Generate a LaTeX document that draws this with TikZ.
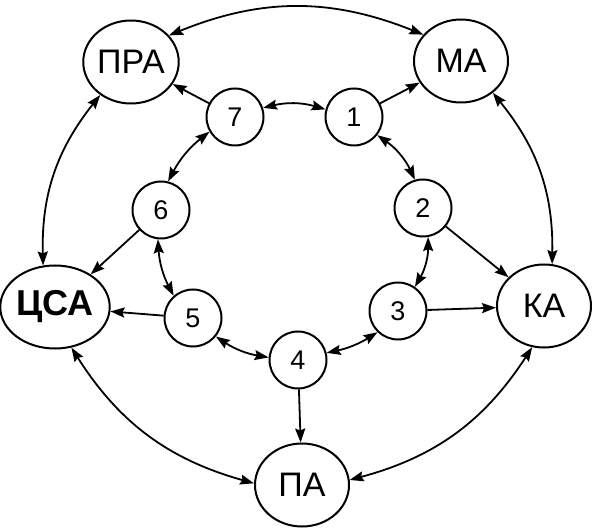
\documentclass[tikz,border=0pt]{standalone}
\usepackage{fontspec}
\setmainfont{Liberation Sans}
\usetikzlibrary{shapes.geometric,arrows.meta}
\begin{document}
\begin{tikzpicture}[x=1pt,y=-1pt,
  big/.style={draw,ellipse,line width=2pt,minimum width=94pt,minimum height=83pt,inner sep=0pt,font=\fontsize{34}{36}\selectfont},
  small/.style={draw,circle,line width=2pt,minimum size=57pt,inner sep=0pt,font=\fontsize{27}{29}\selectfont},
  con/.style={line width=1.8pt,-{Stealth[length=14pt,width=10pt,inset=2pt]}},
  dbl/.style={line width=1.8pt,{Stealth[length=14pt,width=10pt,inset=2pt]}-{Stealth[length=14pt,width=10pt,inset=2pt]}}]
\useasboundingbox (0,0) rectangle (592,529);
\node[big] (pra) at (131,62) {ПРА};
\node[big] (ma) at (461,61) {МА};
\node[big,font=\fontsize{36}{38}\selectfont\bfseries] (csa) at (55,307) {ЦСА};
\node[big] (ka) at (544,306) {КА};
\node[big] (pa) at (302,485) {ПА};
\node[small] (n1) at (354,117) {1};
\node[small] (n2) at (423,208) {2};
\node[small] (n3) at (398,311) {3};
\node[small] (n4) at (298,360) {4};
\node[small] (n5) at (193,318) {5};
\node[small] (n6) at (161,210) {6};
\node[small] (n7) at (235,117) {7};
% outer ring
\draw[dbl] (pra.35) to[bend left=22] (ma.145);
\draw[dbl] (ma.-45) to[bend left=20] (ka.79);
\draw[dbl] (ka.-106) to[bend left=21] (pa.6);
\draw[dbl] (pa.178) to[bend left=21] (csa.-68);
\draw[dbl] (csa.106) to[bend left=20] (pra.227);
% inner ring
\draw[dbl] (n7.18) to[bend left=15] (n1.165);
\draw[dbl] (n1.-38) to[bend left=15] (n2.106);
\draw[dbl] (n2.-80) to[bend left=15] (n3.55);
\draw[dbl] (n3.226) to[bend left=10] (n4.14);
\draw[dbl] (n4.175) to[bend left=12] (n5.-39);
\draw[dbl] (n5.131) to[bend left=12] (n6.264);
\draw[dbl] (n6.76) to[bend left=12] (n7.210);
% spokes
\draw[con] (n7) -- (pra);
\draw[con] (n1) -- (ma);
\draw[con] (n2) -- (ka);
\draw[con] (n3) -- (ka);
\draw[con] (n4) -- (pa);
\draw[con] (n5) -- (csa);
\draw[con] (n6) -- (csa);
\end{tikzpicture}
\end{document}
